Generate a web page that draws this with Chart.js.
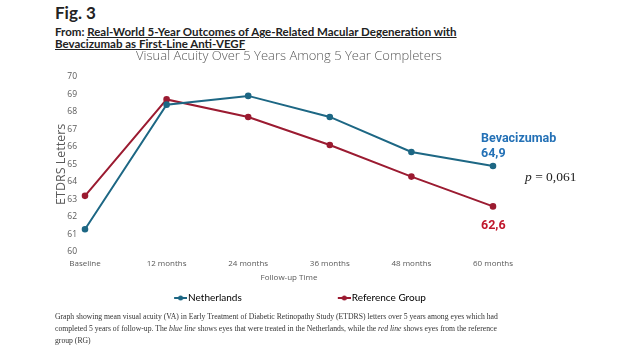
<!DOCTYPE html>
<html>
<head>
<meta charset="utf-8">
<script src="https://cdn.jsdelivr.net/npm/chart.js@4"></script>
<style>
  html, body { margin: 0; padding: 0; background: #fff; }
  body { width: 623px; height: 351px; position: relative; overflow: hidden; }
  #wrap { position: absolute; left: 0; top: 0; width: 623px; height: 351px; }
  .head { position: absolute; left: 55px; font-family: Lato, sans-serif; color: #222; }
  #fig { top: 2px; font-size: 17px; font-weight: bold; }
  #from { top: 26px; font-size: 11.5px; font-weight: bold; line-height: 11.5px; }
  #from span { text-decoration: underline; }
  #caption { position: absolute; left: 55px; top: 311px; font-family: "Liberation Serif", serif;
             font-size: 7.7px; line-height: 12px; color: #333; white-space: nowrap; }
</style>
</head>
<body>
<div class="head" id="fig">Fig. 3</div>
<div class="head" id="from">From: <span>Real-World 5-Year Outcomes of Age-Related Macular Degeneration with<br>Bevacizumab as First-Line Anti-VEGF</span></div>
<div id="wrap"><canvas id="myChart" width="623" height="351"></canvas></div>
<div id="caption">Graph showing mean visual acuity (VA) in Early Treatment of Diabetic Retinopathy Study (ETDRS) letters over 5 years among eyes which had<br>completed 5 years of follow-up. The <i>blue line</i> shows eyes that were treated in the Netherlands, while the <i>red line</i> shows eyes from the reference<br>group (RG)</div>
<script>
const categories = ['Baseline', '12 months', '24 months', '36 months', '48 months', '60 months'];
const netherlands = [61.3, 68.4, 68.9, 67.7, 65.7, 64.9];
const referenceGroup = [63.2, 68.7, 67.7, 66.1, 64.3, 62.6];
const seriesNames = ['Netherlands', 'Reference Group'];
const yMin = 60;
const yMax = 70;
const pValue = '0,061';

const blueLine = '#1d6784';
const redLine = '#9b1b31';

// small line+dot mark for the legend, padded on the left so the items sit apart
function legendMark(color) {
    const c = document.createElement('canvas');
    c.width = 108;
    c.height = 6;
    const g = c.getContext('2d');
    g.strokeStyle = color;
    g.lineWidth = 2;
    g.beginPath();
    g.moveTo(95, 3);
    g.lineTo(108, 3);
    g.stroke();
    g.fillStyle = color;
    g.beginPath();
    g.arc(101.5, 3, 2.5, 0, Math.PI * 2);
    g.fill();
    return c;
}
const legendMarks = [legendMark(blueLine), legendMark(redLine)];

const endLabels = {
    id: 'endLabels',
    afterDatasetsDraw(chart) {
        const { ctx, scales: { x, y } } = chart;
        const last = categories.length - 1;
        const px = x.getPixelForValue(last);
        const yN = y.getPixelForValue(netherlands[last]);
        const yR = y.getPixelForValue(referenceGroup[last]);
        ctx.save();
        ctx.textBaseline = 'middle';
        ctx.textAlign = 'left';
        ctx.font = 'bold 12.5px Roboto';
        ctx.fillStyle = '#2471b6';
        ctx.fillText('Bevacizumab', px - 12, yN - 27);
        ctx.fillText(netherlands[last].toFixed(1).replace('.', ','), px - 12, yN - 12);
        ctx.fillStyle = '#c0172c';
        ctx.fillText(referenceGroup[last].toFixed(1).replace('.', ','), px - 12, yR + 19);
        ctx.fillStyle = '#222';
        ctx.font = 'italic 13.5px "Liberation Serif"';
        ctx.fillText('p', px + 32, yN + 11);
        const w = ctx.measureText('p').width;
        ctx.font = '13.5px "Liberation Serif"';
        ctx.fillText(' = ' + pValue, px + 32 + w, yN + 11);
        ctx.restore();
    }
};

const ctx = document.getElementById('myChart').getContext('2d');
new Chart(ctx, {
    type: 'line',
    data: {
        labels: categories,
        datasets: [{
            label: seriesNames[0],
            data: netherlands,
            borderColor: blueLine,
            backgroundColor: blueLine,
            borderWidth: 2,
            pointRadius: 2.3,
            tension: 0
        }, {
            label: seriesNames[1],
            data: referenceGroup,
            borderColor: redLine,
            backgroundColor: redLine,
            borderWidth: 2,
            pointRadius: 2.3,
            tension: 0
        }]
    },
    options: {
        responsive: false,
        animation: false,
        layout: { padding: { left: 16, right: 130, top: 0, bottom: 38 } },
        plugins: {
            title: {
                display: true,
                text: 'Visual Acuity Over 5 Years Among 5 Year Completers',
                color: '#595959',
                fullSize: false,
                font: { family: 'Open Sans', size: 13, weight: '300' },
                padding: { top: 48, bottom: 13 }
            },
            legend: {
                position: 'bottom',
                labels: {
                    usePointStyle: true,
                    pointStyleWidth: 100,
                    padding: 5,
                    color: '#595959',
                    font: { family: 'Lato', size: 10 },
                    generateLabels: chart => chart.data.datasets.map((ds, i) => ({
                        text: ds.label,
                        pointStyle: legendMarks[i],
                        fillStyle: ds.borderColor,
                        strokeStyle: ds.borderColor,
                        lineWidth: 0,
                        hidden: false,
                        datasetIndex: i
                    }))
                }
            },
            tooltip: { enabled: false }
        },
        scales: {
            x: {
                offset: false,
                grid: { display: false, drawTicks: false },
                border: { display: false },
                ticks: { color: '#595959', padding: 7, font: { family: 'Open Sans', size: 8 } },
                title: { display: true, text: 'Follow-up Time', color: '#595959',
                         font: { family: 'Open Sans', size: 8 }, padding: { top: 0, bottom: 5 } },
                afterFit: s => { s.height = 36; }
            },
            y: {
                min: yMin,
                max: yMax,
                grid: { display: false, drawTicks: false },
                border: { display: false },
                ticks: { stepSize: 1, color: '#595959', padding: 8, font: { family: 'Open Sans', size: 8.5 } },
                title: { display: true, text: 'ETDRS Letters', color: '#595959',
                         font: { family: 'Open Sans', size: 12.5 }, padding: { top: 38, bottom: 0 } },
                afterFit: s => { s.width = 69; }
            }
        }
    },
    plugins: [endLabels]
});
</script>
</body>
</html>
